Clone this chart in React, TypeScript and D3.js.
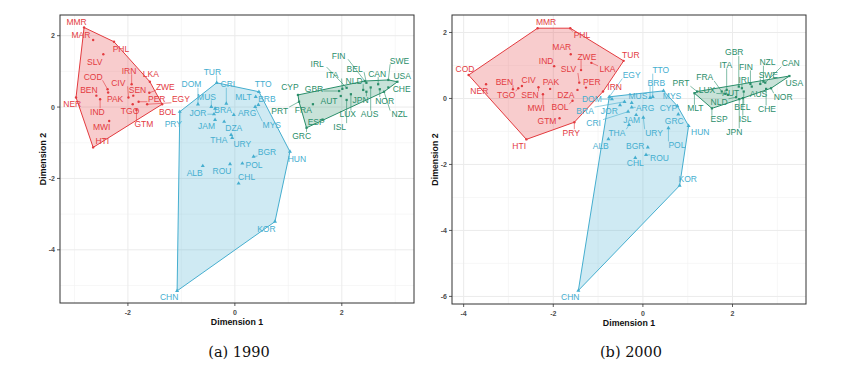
import React from "react";
import * as d3 from "d3";

// cluster colours: 0 = red, 1 = blue, 2 = green
const clusterColors = ["#E33B3F", "#45AECF", "#2A8E6A"];

// [code, dim1, dim2, cluster, labelDim1, labelDim2]
type Row = [string, number, number, number, number, number];

const data1990: Row[] = [
  ["MMR", -2.82, 2.23, 0, -2.96, 2.37],
  ["MAR", -2.65, 1.88, 0, -2.88, 2.02],
  ["PHL", -2.26, 1.83, 0, -2.13, 1.64],
  ["SLV", -2.46, 1.48, 0, -2.62, 1.27],
  ["IRN", -1.93, 0.64, 0, -1.98, 1.02],
  ["LKA", -1.59, 0.71, 0, -1.57, 0.92],
  ["COD", -2.38, 0.5, 0, -2.65, 0.85],
  ["CIV", -1.99, 0.27, 0, -2.18, 0.68],
  ["BEN", -2.59, 0.32, 0, -2.73, 0.48],
  ["NER", -2.97, 0.27, 0, -3.04, 0.08],
  ["PAK", -2.37, 0.41, 0, -2.24, 0.22],
  ["IND", -2.52, 0.22, 0, -2.57, -0.13],
  ["ZWE", -1.6, 0.4, 0, -1.3, 0.57],
  ["SEN", -1.9, 0.32, 0, -1.82, 0.48],
  ["PER", -1.8, 0.15, 0, -1.46, 0.22],
  ["EGY", -1.64, 0.08, 0, -1.01, 0.22],
  ["TGO", -1.91, 0.08, 0, -1.96, -0.11],
  ["BOL", -1.36, 0.08, 0, -1.26, -0.13],
  ["MWI", -2.35, -0.39, 0, -2.49, -0.55],
  ["GTM", -1.84, -0.08, 0, -1.7, -0.48],
  ["HTI", -2.65, -1.13, 0, -2.48, -0.95],
  ["TUR", -0.34, 0.68, 1, -0.42, 0.99],
  ["CRI", -0.16, 0.1, 1, -0.13, 0.64],
  ["TTO", 0.45, 0.43, 1, 0.53, 0.64],
  ["MLT", 0.39, 0.29, 1, 0.16, 0.27],
  ["BRB", 0.44, 0.06, 1, 0.6, 0.22],
  ["MYS", 0.38, 0.01, 1, 0.69, -0.5],
  ["DOM", -0.69, 0.08, 1, -0.81, 0.64],
  ["MUS", -0.44, 0.01, 1, -0.53, 0.29],
  ["JOR", -0.39, -0.2, 1, -0.69, -0.16],
  ["BRA", -0.37, -0.04, 1, -0.22, -0.08],
  ["ARG", -0.02, -0.22, 1, 0.23, -0.18],
  ["JAM", -0.37, -0.36, 1, -0.53, -0.52],
  ["DZA", -0.2, -0.41, 1, -0.02, -0.6],
  ["THA", -0.07, -0.78, 1, -0.3, -0.92],
  ["URY", -0.05, -0.86, 1, 0.14, -1.04],
  ["BGR", 0.35, -1.39, 1, 0.6, -1.27],
  ["HUN", 1.03, -1.25, 1, 1.16, -1.45],
  ["POL", 0.14, -1.58, 1, 0.36, -1.62],
  ["ALB", -0.6, -1.65, 1, -0.75, -1.84],
  ["ROU", -0.09, -1.6, 1, -0.24, -1.78],
  ["CHL", 0.07, -2.14, 1, 0.22, -1.97],
  ["PRY", -1.03, -0.13, 1, -1.15, -0.48],
  ["KOR", 0.75, -3.21, 1, 0.59, -3.42],
  ["CHN", -1.08, -5.15, 1, -1.23, -5.33],
  ["CYP", 1.18, 0.34, 2, 1.03, 0.55],
  ["GBR", 1.95, 0.45, 2, 1.48, 0.52],
  ["PRT", 1.2, 0.15, 2, 0.84, -0.1],
  ["FRA", 1.46, 0.08, 2, 1.28, -0.08],
  ["GRC", 1.34, -0.58, 2, 1.25, -0.8],
  ["ESP", 1.64, -0.35, 2, 1.52, -0.42],
  ["AUT", 1.98, 0.31, 2, 1.76, 0.18],
  ["IRL", 2.09, 0.54, 2, 1.54, 1.22],
  ["ITA", 2.01, 0.51, 2, 1.82, 0.9],
  ["FIN", 2.43, 0.73, 2, 1.94, 1.44],
  ["BEL", 2.46, 0.68, 2, 2.24, 1.08],
  ["NLD", 2.4, 0.48, 2, 2.23, 0.74],
  ["JPN", 2.46, 0.43, 2, 2.35, 0.2],
  ["CAN", 2.68, 0.64, 2, 2.66, 0.94],
  ["AUS", 2.54, 0.55, 2, 2.52, -0.2],
  ["NOR", 2.71, 0.5, 2, 2.8, 0.18],
  ["CHE", 2.87, 0.55, 2, 3.12, 0.5],
  ["SWE", 2.87, 0.76, 2, 3.08, 1.3],
  ["USA", 3.04, 0.71, 2, 3.13, 0.88],
  ["NZL", 2.79, 0.43, 2, 3.08, -0.2],
  ["LUX", 2.17, 0.36, 2, 2.11, -0.2],
  ["ISL", 2.09, 0.2, 2, 1.96, -0.55],
];

const data2000: Row[] = [
  ["MMR", -2.35, 2.13, 0, -2.16, 2.31],
  ["PHL", -1.62, 2.13, 0, -1.36, 1.92],
  ["MAR", -1.61, 1.34, 0, -1.81, 1.55],
  ["TUR", -0.43, 1.14, 0, -0.27, 1.32],
  ["ZWE", -1.38, 0.86, 0, -1.25, 1.27],
  ["LKA", -1.15, 1.08, 0, -0.79, 0.88],
  ["IND", -1.98, 0.98, 0, -2.16, 1.15],
  ["SLV", -1.42, 0.48, 0, -1.66, 0.88],
  ["COD", -3.89, 0.71, 0, -3.97, 0.89],
  ["NER", -3.5, 0.43, 0, -3.65, 0.23],
  ["BEN", -2.9, 0.28, 0, -3.09, 0.51],
  ["CIV", -2.7, 0.38, 0, -2.55, 0.56],
  ["TGO", -2.78, 0.31, 0, -3.05, 0.11],
  ["PAK", -2.07, 0.29, 0, -2.05, 0.51],
  ["SEN", -2.33, 0.34, 0, -2.52, 0.11],
  ["MWI", -2.23, 0.13, 0, -2.38, -0.3],
  ["PER", -1.27, 0.33, 0, -1.14, 0.51],
  ["DZA", -1.46, 0.26, 0, -1.72, 0.11],
  ["BOL", -1.57, -0.07, 0, -1.85, -0.27],
  ["IRN", -0.89, 0.21, 0, -0.63, 0.34],
  ["GTM", -1.86, -0.6, 0, -2.14, -0.67],
  ["PRY", -1.53, -0.72, 0, -1.6, -1.04],
  ["HTI", -2.6, -1.24, 0, -2.76, -1.44],
  ["EGY", -0.75, 0.05, 1, -0.25, 0.71],
  ["TTO", 0.22, 0.05, 1, 0.4, 0.86],
  ["BRB", 0.16, 0.02, 1, 0.3, 0.48],
  ["MUS", -0.25, -0.13, 1, -0.11, 0.08],
  ["MYS", 0.46, 0.23, 1, 0.65, 0.08],
  ["DOM", -0.69, -0.02, 1, -1.14, -0.02],
  ["BRA", -0.41, -0.1, 1, -1.29, -0.37],
  ["JOR", -0.51, -0.2, 1, -0.75, -0.37],
  ["ARG", -0.25, -0.27, 1, 0.05, -0.3],
  ["CRI", -0.33, -0.4, 1, -1.1, -0.75],
  ["JAM", -0.15, -0.5, 1, -0.25, -0.65],
  ["THA", -0.31, -0.8, 1, -0.58, -1.04],
  ["URY", 0.01, -0.58, 1, 0.25, -1.04],
  ["ALB", -0.77, -1.23, 1, -0.94, -1.43],
  ["BGR", 0.11, -1.48, 1, -0.17, -1.44],
  ["ROU", 0.07, -1.71, 1, 0.37, -1.79],
  ["CHL", -0.17, -1.8, 1, -0.17, -1.95],
  ["CYP", 0.77, -0.23, 1, 0.57, -0.3],
  ["GRC", 0.79, -0.48, 1, 0.7, -0.67],
  ["POL", 0.57, -0.9, 1, 0.76, -1.41],
  ["HUN", 1.02, -0.83, 1, 1.28, -1.02],
  ["KOR", 0.82, -2.64, 1, 1.0, -2.44],
  ["CHN", -1.44, -5.82, 1, -1.62, -6.02],
  ["MLT", 1.15, 0.16, 2, 1.17, -0.3],
  ["PRT", 1.21, 0.21, 2, 0.85, 0.48],
  ["FRA", 1.76, 0.21, 2, 1.38, 0.64],
  ["LUX", 1.84, 0.14, 2, 1.43, 0.26],
  ["ITA", 1.87, 0.26, 2, 1.85, 1.02],
  ["GBR", 2.14, 0.36, 2, 2.04, 1.4],
  ["FIN", 2.4, 0.44, 2, 2.3, 0.96],
  ["IRL", 2.21, 0.31, 2, 2.28, 0.56],
  ["NZL", 2.69, 0.51, 2, 2.78, 1.1],
  ["CAN", 2.73, 0.48, 2, 3.3, 1.07],
  ["SWE", 2.62, 0.44, 2, 2.8, 0.71],
  ["USA", 3.27, 0.68, 2, 3.38, 0.46],
  ["AUT", 1.9, 0.11, 2, 1.96, 0.18],
  ["AUS", 2.43, 0.36, 2, 2.58, 0.14],
  ["NOR", 2.86, 0.31, 2, 3.13, 0.05],
  ["NLD", 2.08, 0.04, 2, 1.7, -0.12],
  ["BEL", 2.25, 0.21, 2, 2.22, -0.27],
  ["CHE", 2.75, 0.29, 2, 2.77, -0.32],
  ["ESP", 1.54, -0.3, 2, 1.7, -0.63],
  ["ISL", 2.23, 0.01, 2, 2.28, -0.63],
  ["JPN", 2.15, -0.02, 2, 2.04, -1.01],
];

const xDomain1990 = [-3.27, 3.35];
const yDomain1990 = [-5.49, 2.58];
const xTicks1990 = [-2, 0, 2];
const xMinor1990 = [-3, -1, 1, 3];
const yTicks1990 = [-4, -2, 0, 2];
const yMinor1990 = [-5, -3, -1, 1];

const xDomain2000 = [-4.26, 3.64];
const yDomain2000 = [-6.23, 2.53];
const xTicks2000 = [-4, -2, 0, 2];
const xMinor2000 = [-3, -1, 1, 3];
const yTicks2000 = [-6, -4, -2, 0, 2];
const yMinor2000 = [-5, -3, -1, 1];

const captions = ["(a) 1990", "(b) 2000"];
const axisTitles = ["Dimension 1", "Dimension 2"];

const LABEL_FONT = 8.5;
const SANS = "'Liberation Sans', Arial, Helvetica, sans-serif";
const SERIF = "'DejaVu Serif', 'Liberation Serif', serif";

interface PanelProps {
  data: Row[];
  xDomain: number[];
  yDomain: number[];
  xTicks: number[];
  xMinor: number[];
  yTicks: number[];
  yMinor: number[];
  left: number;
  right: number;
  top: number;
  bottom: number;
  caption: string;
}

function Panel(p: PanelProps) {
  const x = d3.scaleLinear().domain(p.xDomain).range([p.left, p.right]);
  const y = d3.scaleLinear().domain(p.yDomain).range([p.bottom, p.top]);
  const cx = (p.left + p.right) / 2;
  const cy = (p.top + p.bottom) / 2;

  const hulls = [0, 1, 2].map((g) => {
    const pts = p.data
      .filter((d) => d[3] === g)
      .map((d) => [x(d[1]), y(d[2])] as [number, number]);
    const h = d3.polygonHull(pts);
    return h ? "M" + h.map((q) => q.join(",")).join("L") + "Z" : "";
  });

  const tri = d3.symbol().type(d3.symbolTriangle).size(7)();
  const sq = d3.symbol().type(d3.symbolSquare).size(5)();

  return (
    <g>
      {p.xMinor.map((t) => (
        <line key={"xm" + t} x1={x(t)} x2={x(t)} y1={p.top} y2={p.bottom} stroke="#F2F2F2" strokeWidth={0.6} />
      ))}
      {p.yMinor.map((t) => (
        <line key={"ym" + t} y1={y(t)} y2={y(t)} x1={p.left} x2={p.right} stroke="#F2F2F2" strokeWidth={0.6} />
      ))}
      {p.xTicks.map((t) => (
        <line key={"xg" + t} x1={x(t)} x2={x(t)} y1={p.top} y2={p.bottom} stroke="#EBEBEB" strokeWidth={1} />
      ))}
      {p.yTicks.map((t) => (
        <line key={"yg" + t} y1={y(t)} y2={y(t)} x1={p.left} x2={p.right} stroke="#EBEBEB" strokeWidth={1} />
      ))}

      {hulls.map((d, g) => (
        <path key={"h" + g} d={d} fill={clusterColors[g]} fillOpacity={0.26} stroke={clusterColors[g]} strokeWidth={1} strokeLinejoin="round" />
      ))}

      {p.data.map((d) => {
        const px = x(d[1]);
        const py = y(d[2]);
        const lx = x(d[4]);
        const ly = y(d[5]);
        const hw = (d[0].length * LABEL_FONT * 0.66) / 2 + 1;
        const hh = LABEL_FONT * 0.42;
        const ex = Math.max(lx - hw, Math.min(px, lx + hw));
        const ey = Math.max(ly - hh, Math.min(py, ly + hh));
        const dist = Math.hypot(px - ex, py - ey);
        if (dist < 4) return null;
        return (
          <line key={"s" + d[0]} x1={px} y1={py} x2={ex} y2={ey} stroke={clusterColors[d[3]]} strokeWidth={0.6} />
        );
      })}

      {p.data.map((d) => {
        const px = x(d[1]);
        const py = y(d[2]);
        const c = clusterColors[d[3]];
        if (d[3] === 0) return <circle key={"p" + d[0]} cx={px} cy={py} r={1.2} fill={c} />;
        return <path key={"p" + d[0]} d={d[3] === 1 ? tri! : sq!} transform={`translate(${px},${py})`} fill={c} />;
      })}

      {p.data.map((d) => (
        <text key={"l" + d[0]} x={x(d[4])} y={y(d[5])} fill={clusterColors[d[3]]} fontSize={LABEL_FONT} fontFamily={SANS} textAnchor="middle" dominantBaseline="central">
          {d[0]}
        </text>
      ))}

      <rect x={p.left} y={p.top} width={p.right - p.left} height={p.bottom - p.top} fill="none" stroke="#333333" strokeWidth={1} />

      {p.xTicks.map((t) => (
        <g key={"xt" + t}>
          <line x1={x(t)} x2={x(t)} y1={p.bottom} y2={p.bottom + 3} stroke="#333333" strokeWidth={0.8} />
          <text x={x(t)} y={p.bottom + 9} fontSize={7} fontFamily={SANS} fontWeight="bold" fill="#4D4D4D" textAnchor="middle" dominantBaseline="central">
            {t}
          </text>
        </g>
      ))}
      {p.yTicks.map((t) => (
        <g key={"yt" + t}>
          <line x1={p.left - 3} x2={p.left} y1={y(t)} y2={y(t)} stroke="#333333" strokeWidth={0.8} />
          <text x={p.left - 5} y={y(t)} fontSize={7} fontFamily={SANS} fontWeight="bold" fill="#4D4D4D" textAnchor="end" dominantBaseline="central">
            {t}
          </text>
        </g>
      ))}

      <text x={cx} y={p.bottom + 19} fontSize={8.8} fontFamily={SANS} fontWeight="bold" fill="#111" textAnchor="middle" dominantBaseline="central">
        {axisTitles[0]}
      </text>
      <text transform={`translate(${p.left - 17},${cy}) rotate(-90)`} fontSize={8.8} fontFamily={SANS} fontWeight="bold" fill="#111" textAnchor="middle" dominantBaseline="central">
        {axisTitles[1]}
      </text>

      <text x={cx + 2} y={352} fontSize={14.5} fontFamily={SERIF} fill="#111" textAnchor="middle" dominantBaseline="central">
        {p.caption}
      </text>
    </g>
  );
}

export default function App() {
  return (
    <svg width={850} height={376} style={{ position: "absolute", left: 0, top: 0, background: "#fff" }}>
      <rect width={850} height={376} fill="#fff" />
      <Panel
        data={data1990}
        xDomain={xDomain1990}
        yDomain={yDomain1990}
        xTicks={xTicks1990}
        xMinor={xMinor1990}
        yTicks={yTicks1990}
        yMinor={yMinor1990}
        left={60}
        right={414}
        top={15}
        bottom={303}
        caption={captions[0]}
      />
      <Panel
        data={data2000}
        xDomain={xDomain2000}
        yDomain={yDomain2000}
        xTicks={xTicks2000}
        xMinor={xMinor2000}
        yTicks={yTicks2000}
        yMinor={yMinor2000}
        left={452}
        right={806}
        top={15}
        bottom={304}
        caption={captions[1]}
      />
    </svg>
  );
}
